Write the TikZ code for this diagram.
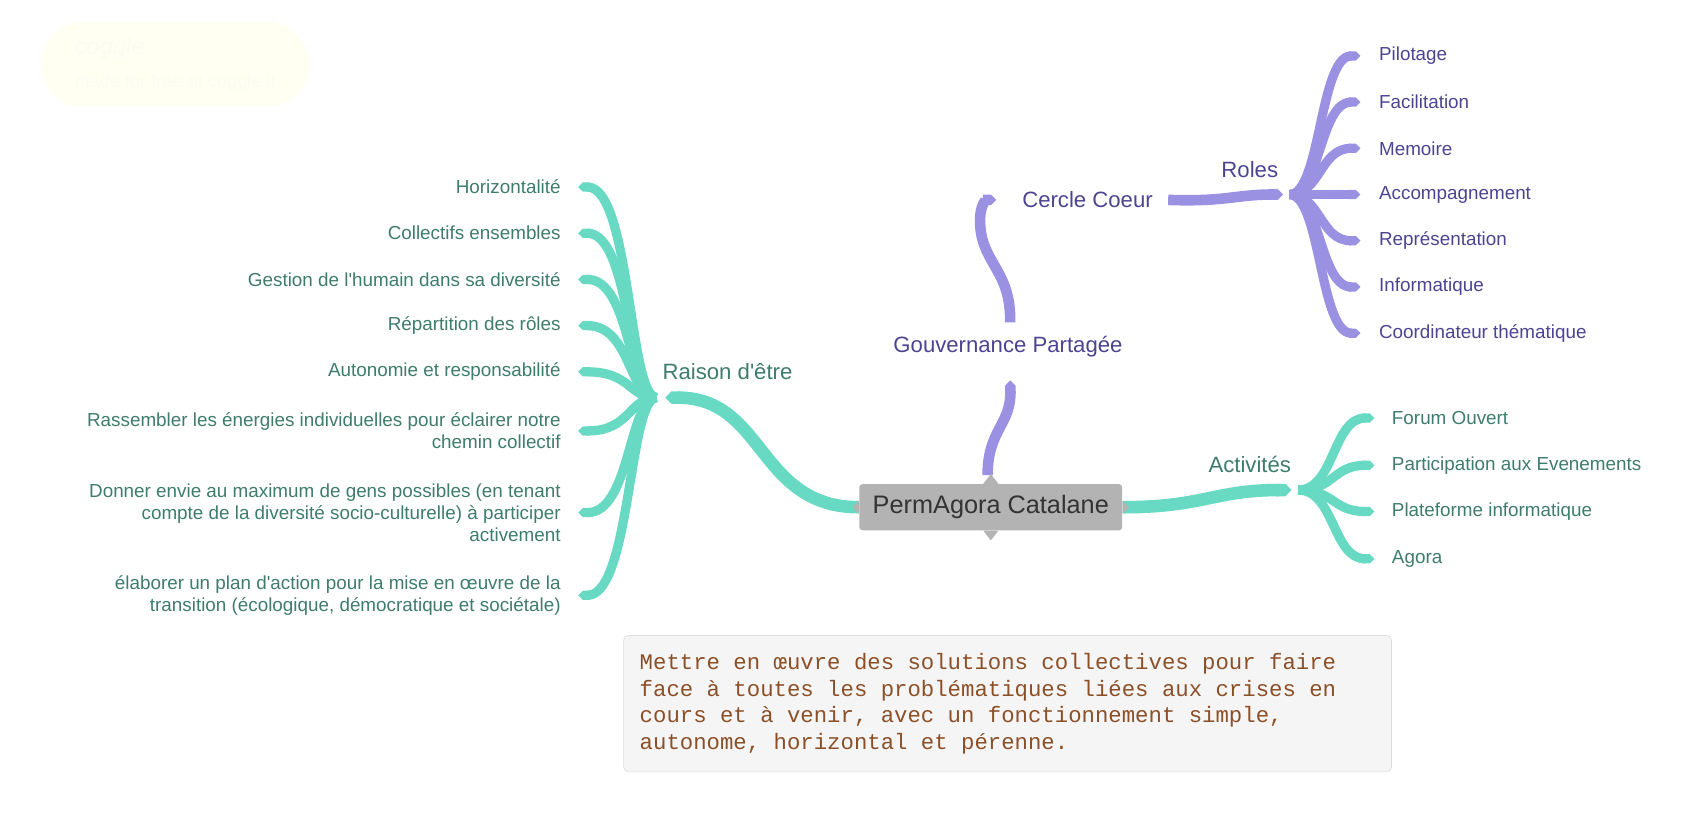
\documentclass[tikz,border=0pt]{standalone}
\usepackage{fontspec}
\setmainfont{Liberation Sans}
\setmonofont{Liberation Mono}
\usetikzlibrary{arrows.meta,calc}
\definecolor{brteal}{RGB}{104,217,195}
\definecolor{txteal}{RGB}{62,124,108}
\definecolor{brpurple}{RGB}{155,145,227}
\definecolor{txpurple}{RGB}{76,68,146}
\definecolor{rootgray}{RGB}{179,179,179}
\definecolor{notebrown}{RGB}{140,80,40}
\definecolor{notefill}{RGB}{245,245,245}
\definecolor{noteline}{RGB}{221,221,221}
\definecolor{cogglebg}{RGB}{255,255,242}
\definecolor{cogglefg}{RGB}{252,252,242}
\newcommand\aq{\textquotesingle}
\newcommand\monospace{\spaceskip=0.6em\relax\xspaceskip=0.6em\relax}
\begin{document}
\begin{tikzpicture}[x=0.65pt,y=-0.65pt,
	leaf/.style={inner sep=0pt,font=\fontsize{11.4}{13.3}\selectfont},
	leafL/.style={leaf,anchor=east,align=flush right,text=txteal},
	leafT/.style={leaf,anchor=west,align=flush left,text=txteal},
	leafP/.style={leaf,anchor=west,align=flush left,text=txpurple},
	topic/.style={inner sep=0pt,font=\fontsize{13.4}{16}\selectfont},
	root/.style={fill=rootgray,text=black!80,rounded corners=2pt,minimum width=159pt,minimum height=28pt,font=\fontsize{15.3}{18}\selectfont},
	note/.style={anchor=north west,draw=noteline,fill=notefill,rounded corners=3pt,text width=445pt,inner xsep=9.75pt,minimum height=82.5pt,align=left,text=notebrown,font=\ttfamily\fontsize{13.5}{16}\selectfont},
	br/.style={line width=5.6pt,-{Triangle Cap[]}},
	brT/.style={br,draw=brteal},
	brP/.style={br,draw=brpurple},
	mainT/.style={brT,line width=7.6pt},
	mainP/.style={brP,line width=6.4pt}]
	\useasboundingbox (0,0) rectangle (1568,781);
	% filigrane
	\node[fill=cogglebg,rounded corners=26pt,minimum width=162pt,minimum height=52pt,align=left,text=cogglefg,font=\fontsize{11}{20}\selectfont] (coggle) at (163,60) {\textit{\Large coggle}\\made for free at coggle.it};
	% noeuds
	\node[root] (root) at (922,472) {PermAgora Catalane};
	\node[topic,text=txteal] (raison) at (677,346) {Raison d\aq être};
	\node[topic,text=txpurple] (gouv) at (938,323) {Gouvernance Partagée};
	\node[topic,text=txpurple] (cercle) at (1012,186) {Cercle Coeur};
	\node[topic,text=txpurple] (roles) at (1163,158) {Roles};
	\node[topic,text=txteal] (activ) at (1163,432) {Activités};
	\coordinate (hubR) at (611,370);
	\coordinate (hubO) at (1200,181);
	\coordinate (hubA) at (1208,456);
	% Raison d'etre
	\foreach \n/\y/\txt in {r1/174/Horizontalité, r2/217/Collectifs ensembles, r3/260/Gestion de l\aq humain dans sa diversité, r4/303/Répartition des rôles, r5/346/Autonomie et responsabilité, r6/401/{Rassembler les énergies individuelles pour éclairer notre\\chemin collectif}, r7/477/{Donner envie au maximum de gens possibles (en tenant\\compte de la diversité socio-culturelle) à participer\\activement}, r8/554/{élaborer un plan d\aq action pour la mise en œuvre de la\\transition (écologique, démocratique et sociétale)}}{
		\node[leafL] (\n) at (522,\y) {\txt};
		\draw[brT] (hubR) .. controls (585,370) and (587,\y) .. ($(\n.east)+(16,0)$);
	}
	% Roles
	\foreach \n/\y/\txt in {o1/52/Pilotage, o2/95/Facilitation, o3/138/Memoire, o4/181/Accompagnement, o5/224/Représentation, o6/267/Informatique, o7/310/Coordinateur thématique}{
		\node[leafP] (\n) at (1283,\y) {\txt};
		\draw[brP] (hubO) .. controls (1229,181) and (1228,\y) .. ($(\n.west)+(-17,0)$);
	}
	% Activites
	\foreach \n/\y/\txt in {a1/389/Forum Ouvert, a2/433/Participation aux Evenements, a3/476/Plateforme informatique, a4/520/Agora}{
		\node[leafT] (\n) at (1295,\y) {\txt};
		\draw[brT] (hubA) .. controls (1242,456) and (1240,\y) .. ($(\n.west)+(-16,0)$);
	}
	% branches principales
	\draw[mainT] (root.west) .. controls (705,472) and (712,370) .. ($(hubR)+(8,0)$);
	\draw[mainT] (root.east) .. controls (1120,472) and (1130,456) .. ($(hubA)+(-6,0)$);
	\draw[mainP] ($(root.north)+(-3,-8)$) .. controls (919,400) and (941,395) .. ($(gouv.center)+(2,31)$);
	\draw[mainP] ($(gouv.center)+(2,-23)$) .. controls (941,250) and (912,245) .. (912,205) .. controls (912,190) and (918,186) .. ($(cercle.west)+(-24,0)$);
	\draw[mainP] ($(cercle.east)+(14,0)$) .. controls (1140,188) and (1150,181) .. ($(hubO)+(-6,0)$);
	\fill[rootgray] ($(root.north)+(-7,0)$) -- ($(root.north)+(0,-9)$) -- ($(root.north)+(7,0)$) -- cycle;
	\fill[rootgray] ($(root.south)+(-7,0)$) -- ($(root.south)+(0,9)$) -- ($(root.south)+(7,0)$) -- cycle;
	\fill[rootgray] ($(root.west)+(0,-6)$) -- ($(root.west)+(-6,0)$) -- ($(root.west)+(0,6)$) -- cycle;
	\fill[rootgray] ($(root.east)+(0,-6)$) -- ($(root.east)+(6,0)$) -- ($(root.east)+(0,6)$) -- cycle;
	% note
	\node[note] (note) at (580,591) {\monospace Mettre en œuvre des solutions collectives pour faire\\face à toutes les problématiques liées aux crises en\\cours et à venir, avec un fonctionnement simple,\\autonome, horizontal et pérenne.};
\end{tikzpicture}
\end{document}
